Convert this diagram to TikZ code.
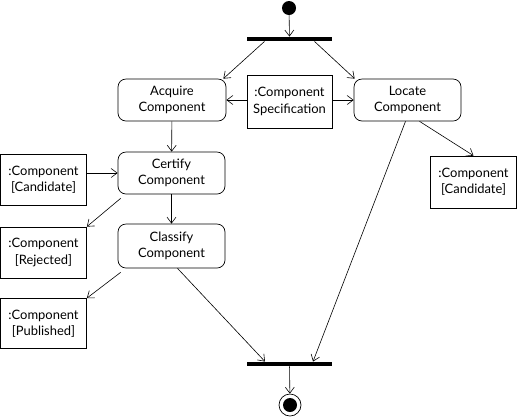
\documentclass[tikz,border=0pt]{standalone}
\usepackage{fontspec}
\setmainfont{Lato}
\usetikzlibrary{arrows.meta}
\begin{document}
\begin{tikzpicture}[x=1bp,y=-1bp,
  every node/.style={font=\fontsize{13}{16.5}\selectfont, align=center, inner sep=0pt},
  action/.style={draw, rounded corners=8bp, line width=0.7pt, minimum width=107bp, minimum height=42bp},
  objbox/.style={draw, line width=0.7pt, minimum width=86bp, minimum height=51bp},
  syncbar/.style={fill=black, minimum width=85bp, minimum height=4.5bp},
  arr/.style={line width=0.6pt, -{Straight Barb[length=6bp,width=9bp,line width=0.6pt]}}]
\useasboundingbox (0,0) rectangle (517,418);

% start and end markers
\node[circle, fill=black, minimum size=14bp] (start) at (289,8) {};
\node[circle, draw, line width=0.7pt, minimum size=22bp] (finish) at (290,405) {};
\node[circle, fill=black, minimum size=14bp] at (finish) {};

% fork and join bars
\node[syncbar] (fork) at (289.5,39) {};
\node[syncbar] (join) at (289.5,364) {};

% actions
\node[action, minimum width=108bp] (acq) at (172,100) {Acquire\\Component};
\node[action] (loc) at (407.5,100) {Locate\\Component};
\node[action] (cert) at (171.5,173) {Certify\\Component};
\node[action, minimum height=44bp] (cls) at (171.5,246) {Classify\\Component};

% object flows
\node[objbox, minimum width=85bp, minimum height=53bp] (spec) at (289.5,101.5) {:Component\\Specification};
\node[objbox] (candL) at (43.5,179.5) {:Component\\{[Candidate]}};
\node[objbox] (rej) at (43.5,252.5) {:Component\\{[Rejected]}};
\node[objbox, minimum height=50bp] (pub) at (43.5,323.5) {:Component\\{[Published]}};
\node[objbox, minimum height=52bp] (candR) at (473.5,182) {:Component\\{[Candidate]}};

% control flow
\draw[arr] (start) -- (fork);
\draw[arr] ([xshift=-25bp]fork.south) -- ([xshift=-3bp]acq.north east);
\draw[arr] ([xshift=25bp]fork.south) -- ([xshift=1bp]loc.north west);
\draw[arr] (spec.west |- acq.east) -- (acq.east);
\draw[arr] (spec.east |- loc.west) -- (loc.west);
\draw[arr] (acq) -- (cert);
\draw[arr] (candL.east |- cert.west) -- (cert.west);
\draw[arr] (cert) -- (cls);
\draw[arr] ([xshift=3bp,yshift=-4bp]cert.south west) -- (rej.north east);
\draw[arr] ([xshift=3bp,yshift=-4bp]cls.south west) -- (pub.north east);
\draw[arr] ([xshift=6bp]cls.south) -- ([xshift=-24.5bp]join.north);
\draw[arr] ([xshift=-2bp]loc.south) -- ([xshift=23.5bp]join.north);
\draw[arr] ([xshift=12bp]loc.south) -- (candR.north);
\draw[arr] (join) -- (finish);
\end{tikzpicture}
\end{document}
